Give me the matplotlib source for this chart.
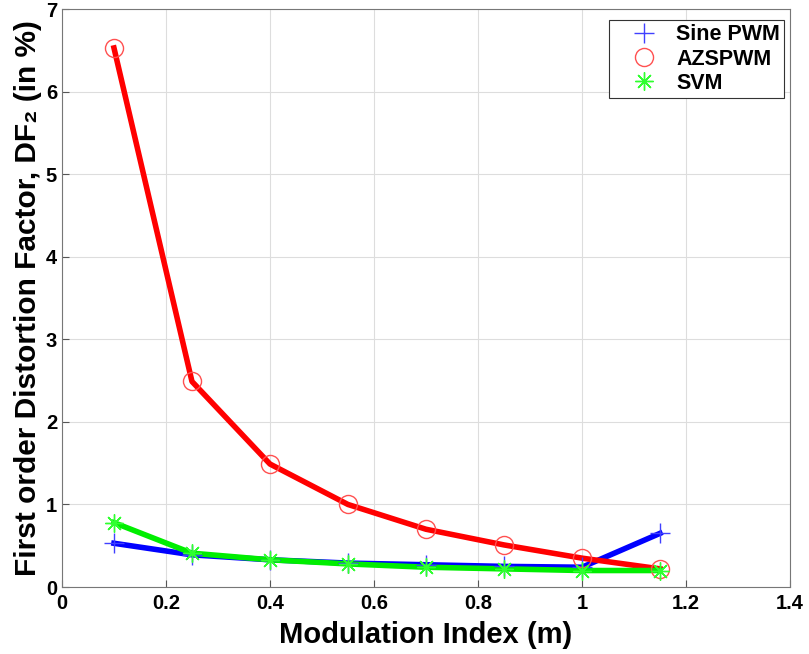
import numpy as np
import matplotlib
matplotlib.use('Agg')
import matplotlib.pyplot as plt

# dados
m = [0.1, 0.25, 0.4, 0.55, 0.7, 0.85, 1.0, 1.15]
sine_pwm = [0.53, 0.39, 0.33, 0.29, 0.27, 0.25, 0.24, 0.65]
azspwm = [6.53, 2.49, 1.49, 1.00, 0.70, 0.51, 0.35, 0.22]
svm = [0.78, 0.41, 0.33, 0.28, 0.24, 0.22, 0.20, 0.20]

plt.rcParams['font.family'] = ['Liberation Sans', 'DejaVu Sans']
plt.rcParams['font.weight'] = 'bold'

fig = plt.figure(figsize=(8.09, 6.54), dpi=100)
ax = fig.add_axes([0.0766, 0.1024, 0.8999, 0.8836])

# linhas grossas
ax.plot(m, sine_pwm, '-', color='#0000ff', lw=4, zorder=3)
ax.plot(m, azspwm, '-', color='#ff0000', lw=4, zorder=3)
ax.plot(m, svm, '-', color='#00ee00', lw=4, zorder=3)

# marcadores finos
ax.plot(m, sine_pwm, '+', color='#4040ff', ms=15, mew=1, ls='none', zorder=4, label='Sine PWM')
ax.plot(m, azspwm, 'o', mfc='none', mec='#ff5050', ms=13, mew=1, ls='none', zorder=4, label='AZSPWM')
ax.plot(m, svm, marker=(8, 2, 0), color='#30ff30', ms=13, mew=1, ls='none', zorder=4, label='SVM')

ax.set_xlim(0, 1.4)
ax.set_ylim(0, 7)
ax.set_xticks(np.arange(0, 1.41, 0.2))
ax.set_xticklabels(['0', '0.2', '0.4', '0.6', '0.8', '1', '1.2', '1.4'])
ax.set_yticks(range(0, 8))
ax.grid(True, color='#dddddd', lw=0.8)
ax.tick_params(direction='in', labelsize=14.5, length=5, color='#555555')
ax.tick_params(axis='x', pad=5)
for s in ax.spines.values():
    s.set_color('#777777')

ax.set_xlabel('Modulation Index (m)', fontsize=21, fontweight='bold', labelpad=6)
ax.set_ylabel('First order Distortion Factor, DF\u2082 (in %)', fontsize=21.5,
              fontweight='bold', labelpad=3)

leg = ax.legend(loc='upper right', bbox_to_anchor=(0.992, 0.981), borderaxespad=0,
                fontsize=15.5, fancybox=False, edgecolor='#333333', framealpha=1,
                handlelength=2.8, labelspacing=0.15, borderpad=0.2, handletextpad=0.1)
leg.get_frame().set_linewidth(0.8)

plt.savefig('out.png', dpi=100)
